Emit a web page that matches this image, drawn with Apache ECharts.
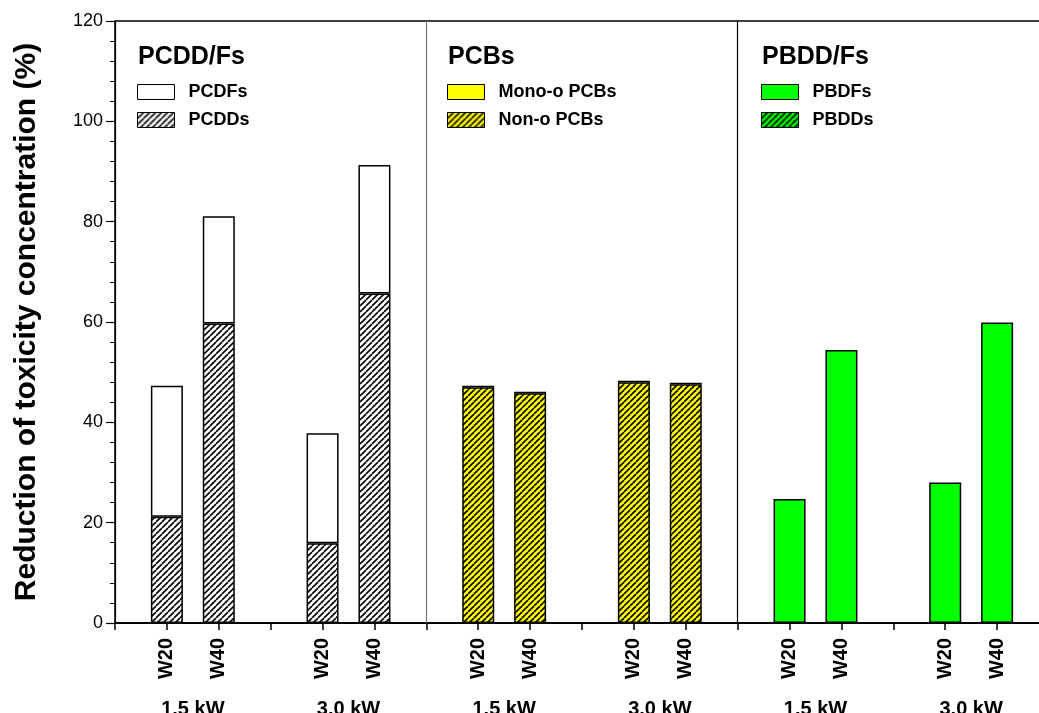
<!DOCTYPE html>
<html>
<head>
<meta charset="utf-8">
<script src="https://cdn.jsdelivr.net/npm/echarts@6/dist/echarts.min.js"></script>
<style>
  html, body { margin: 0; padding: 0; background: #fff; }
  #chart { width: 1039px; height: 713px; }
</style>
</head>
<body>
<div id="chart"></div>
<script>
// groups / categories
const panels = ['PCDD/Fs', 'PCBs', 'PBDD/Fs'];
const powers = ['1.5 kW', '3.0 kW'];
const loads = ['W20', 'W40'];
const yTicks = [0, 20, 40, 60, 80, 100, 120];

// values, order: 1.5kW W20, 1.5kW W40, 3.0kW W20, 3.0kW W40
const pcdds = [21.2, 59.7, 15.9, 65.7];
const pcdfs = [26.1, 21.4, 21.9, 25.6];
const nonOPcbs = [47.0, 45.8, 48.0, 47.6];
const monoOPcbs = [0.3, 0.3, 0.3, 0.3];
const pbdds = [0, 0, 0, 0];
const pbdfs = [24.7, 54.4, 28.0, 59.9];

const FONT = 'Arial, "Liberation Sans", sans-serif';

function hatch(bg) {
    const s = 6;
    const c = document.createElement('canvas');
    c.width = s; c.height = s;
    const g = c.getContext('2d');
    g.fillStyle = bg;
    g.fillRect(0, 0, s, s);
    g.strokeStyle = '#000';
    g.lineWidth = 1.6;
    for (let x0 = -s; x0 <= s; x0 += s) {
        g.beginPath();
        g.moveTo(x0, s);
        g.lineTo(x0 + s, 0);
        g.stroke();
    }
    return { image: c, repeat: 'repeat' };
}

// 19 slots: boundaries at 0,3,6..18, bars at 3k+1, 3k+2
const nSlots = panels.length * powers.length * 3 + 1;
const slots = [];
for (let i = 0; i < nSlots; i++) slots.push('s' + i);

function place(panel, vals) {
    const arr = new Array(nSlots).fill('-');
    vals.forEach((v, i) => {
        const p = Math.floor(i / 2), l = i % 2;
        arr[panel * 6 + p * 3 + l + 1] = v;
    });
    return arr;
}

const groupLabels = [];
panels.forEach(() => powers.forEach(p => groupLabels.push(p)));

function bar(name, panel, vals, color) {
    return {
        name: name,
        type: 'bar',
        stack: 'all',
        barWidth: 32,
        data: place(panel, vals),
        itemStyle: { color: color, borderColor: '#000', borderWidth: 1.5 }
    };
}

const series = [
    bar('PCDDs', 0, pcdds, hatch('#ffffff')),
    bar('PCDFs', 0, pcdfs, '#ffffff'),
    bar('Non-o PCBs', 1, nonOPcbs, hatch('#ffff00')),
    bar('Mono-o PCBs', 1, monoOPcbs, '#ffff00'),
    bar('PBDDs', 2, pbdds, hatch('#00ff00')),
    bar('PBDFs', 2, pbdfs, '#00ff00')
];
series[0].markLine = {
    silent: true,
    symbol: 'none',
    label: { show: false },
    data: [
        { xAxis: 6, lineStyle: { color: '#777', width: 1.2, type: 'solid' } },
        { xAxis: 12, lineStyle: { color: '#000', width: 1.2, type: 'solid' } }
    ]
};

const legendBase = {
    orient: 'vertical',
    top: 83,
    padding: 0,
    itemWidth: 37,
    itemHeight: 15,
    itemGap: 10,
    icon: 'rect',
    selectedMode: false,
    itemStyle: { borderColor: '#000', borderWidth: 1 },
    textStyle: { fontFamily: FONT, fontSize: 18, fontWeight: 'bold', color: '#000', padding: [0, 0, 0, 9] }
};
const titleBase = { top: 45, padding: 0, textStyle: { fontFamily: FONT, fontSize: 25, fontWeight: 'bold', color: '#000' } };

const chart = echarts.init(document.getElementById('chart'), null, { renderer: 'canvas' });
chart.setOption({
    animation: false,
    backgroundColor: '#fff',
    title: [
        Object.assign({ text: panels[0], left: 138 }, titleBase),
        Object.assign({ text: panels[1], left: 448 }, titleBase),
        Object.assign({ text: panels[2], left: 762 }, titleBase)
    ],
    legend: [
        Object.assign({ left: 137, data: ['PCDFs', 'PCDDs'] }, legendBase),
        Object.assign({ left: 447, data: ['Mono-o PCBs', 'Non-o PCBs'] }, legendBase),
        Object.assign({ left: 761, data: ['PBDFs', 'PBDDs'] }, legendBase)
    ],
    grid: {
        left: 115, top: 21, width: 934, bottom: 90,
        outerBoundsMode: 'none',
        show: true, borderColor: '#000', borderWidth: 1.5, backgroundColor: 'transparent'
    },
    xAxis: [
        {
            type: 'category',
            data: slots,
            boundaryGap: false,
            position: 'bottom',
            axisLine: { lineStyle: { color: '#000', width: 2 } },
            axisTick: { interval: 0, length: 7, lineStyle: { color: '#000', width: 1.5 } },
            axisLabel: {
                interval: 0, rotate: 90, margin: 15,
                fontFamily: FONT, fontSize: 20, fontWeight: 'bold', color: '#000',
                formatter: (v, i) => (i % 3 === 0 ? '' : loads[(i % 3) - 1])
            },
            splitLine: { show: false }
        },
        {
            type: 'category',
            data: groupLabels,
            position: 'bottom',
            axisLine: { show: false },
            axisTick: { show: false },
            axisLabel: { interval: 0, margin: 76, fontFamily: FONT, fontSize: 20, fontWeight: 'bold', color: '#000' },
            splitLine: { show: false }
        }
    ],
    yAxis: {
        type: 'value',
        min: yTicks[0],
        max: yTicks[yTicks.length - 1],
        interval: 20,
        name: 'Reduction of toxicity concentration (%)',
        nameLocation: 'middle',
        nameGap: 73,
        nameTextStyle: { fontFamily: FONT, fontSize: 30, fontWeight: 'bold', color: '#000' },
        axisLine: { show: true, lineStyle: { color: '#000', width: 1.2 } },
        axisTick: { show: true, length: 9, lineStyle: { color: '#000', width: 1.2 } },
        minorTick: { show: true, splitNumber: 5, length: 5, lineStyle: { color: '#000', width: 1 } },
        axisLabel: { margin: 12, fontFamily: FONT, fontSize: 18, color: '#000' },
        splitLine: { show: false }
    },
    series: series
});
</script>
</body>
</html>
